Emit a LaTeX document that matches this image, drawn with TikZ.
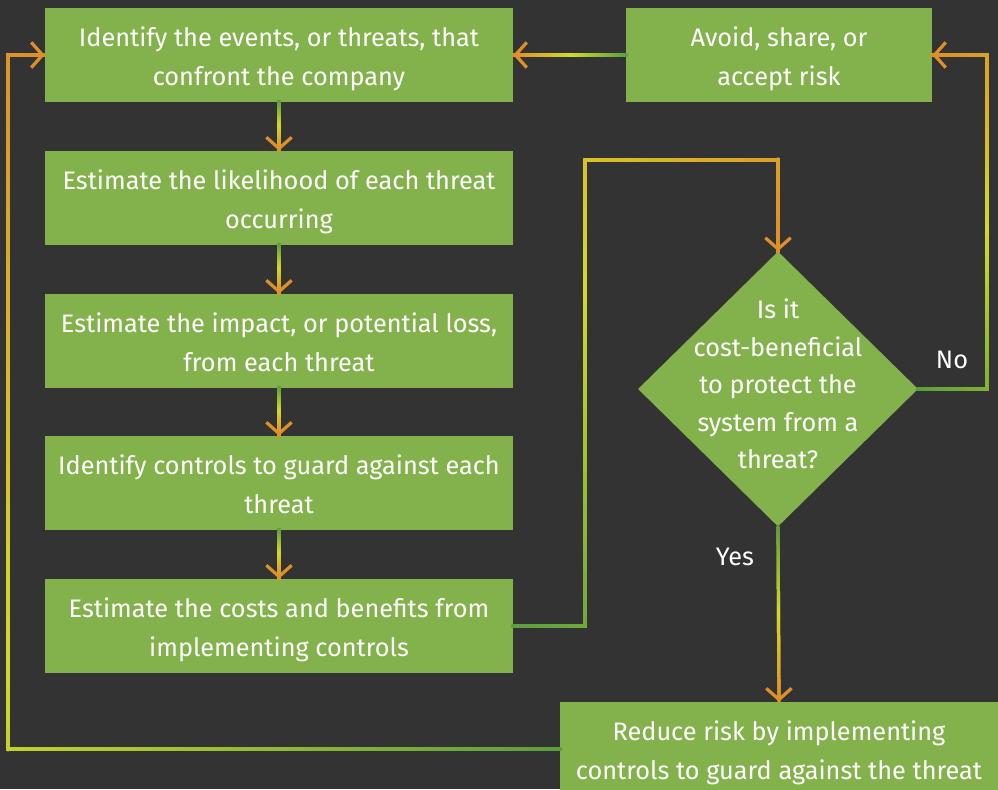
\documentclass[tikz,border=0pt]{standalone}
\usepackage{fontspec}
\setmainfont{Fira Sans}
\usetikzlibrary{shapes.geometric,arrows.meta,decorations.markings}
\definecolor{bgc}{HTML}{333333}
\definecolor{boxg}{HTML}{83B14B}
\definecolor{lgrn}{HTML}{5A9E3F}
\definecolor{lyel}{HTML}{D2DA2A}
\definecolor{lorg}{HTML}{DD8F2A}
\tikzset{
  box/.style={fill=boxg, text=white, align=center, inner sep=0pt,
    minimum width=11.7cm, minimum height=2.35cm,
    text height=44pt, text depth=0pt},
  dia/.style={diamond, fill=boxg, inner sep=0pt,
    minimum width=7cm, minimum height=6.875cm},
  txt/.style={text=white, align=center, inner sep=0pt},
  conn/.style={draw=lorg, line width=2.3pt,
    -{Straight Barb[length=8pt,width=18pt,line width=2.3pt]},
    postaction={decorate, decoration={markings,
      mark=between positions 0 and 1 step 1.2pt with {
        \pgfmathsetmacro\gp{min(200,200*(\pgfkeysvalueof{/pgf/decoration/mark info/distance from start}/\pgfdecoratedpathlength))}
        \ifdim\gp pt<100pt
          \colorlet{segc}{lyel!\gp!lgrn}
        \else
          \pgfmathsetmacro\gq{\gp-100}
          \colorlet{segc}{lorg!\gq!lyel}
        \fi
        \draw[-, segc, line width=2.3pt, line cap=round] (-0.7pt,0pt) -- (0.7pt,0pt);
      }}}}
}
\begin{document}
\begin{tikzpicture}[x=0.025cm, y=-0.025cm, font=\fontsize{18}{27.7}\selectfont]
\fill[bgc] (0,0) rectangle (998,789);
\useasboundingbox (0,0) rectangle (998,789);
\node[box] (threats) at (279,55) {Identify the events, or threats, that\\confront the company};
\node[box] (likely) at (279,198) {Estimate the likelihood of each threat\\occurring};
\node[box] (impact) at (279,341) {Estimate the impact, or potential loss,\\from each threat};
\node[box] (controls) at (279,483) {Identify controls to guard against each\\threat};
\node[box] (costs) at (279,626) {Estimate the costs and benefits from\\implementing controls};
\node[box, minimum width=7.65cm] (avoid) at (779,55) {Avoid, share, or\\accept risk};
\node[dia] (decide) at (778,389) {};
\node[txt, yshift=3.5pt, font=\fontsize{18}{26.6}\selectfont] (decidetext) at (decide) {Is it\\cost-beneficial\\to protect the\\system from a\\threat?};
\node[box, minimum width=10.95cm] (reduce) at (779,749) {Reduce risk by implementing\\controls to guard against the threat};
\node[txt] (yes) at (735,557) {Yes};
\node[txt] (no) at (952,360) {No};
\coordinate (upbend) at (585,160);
\coordinate (nobend) at (987,389);
\coordinate (backbend) at (8,749);
\draw[conn] (threats) -- (likely);
\draw[conn] (likely) -- (impact);
\draw[conn] (impact) -- (controls);
\draw[conn] (controls) -- (costs);
\draw[conn] (costs.east) -| (upbend) -| (decide.north);
\draw[conn] (decide.east) -- (nobend) |- (avoid.east);
\draw[conn] (avoid.west) -- (threats.east);
\draw[conn] (decide.south) -- (reduce.north);
\draw[conn] (reduce.west) -- (backbend) |- (threats.west);
\end{tikzpicture}
\end{document}
